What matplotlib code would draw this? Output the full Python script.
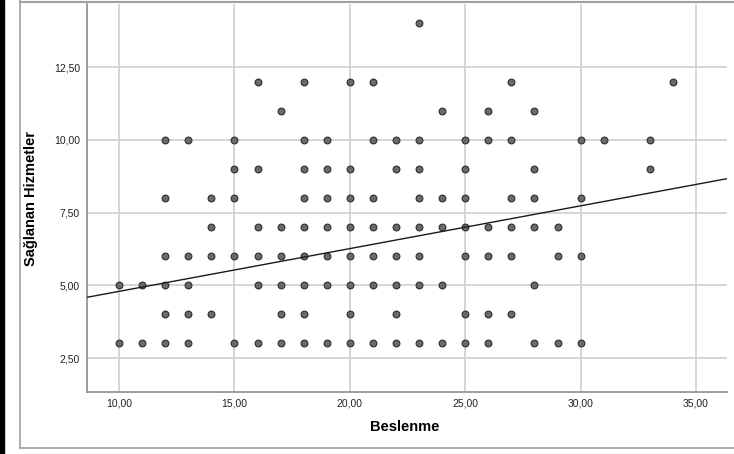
import matplotlib
matplotlib.use("Agg")
import matplotlib.pyplot as plt
from matplotlib.patches import Rectangle
from matplotlib.lines import Line2D

# Datos: Beslenme (x) y Sağlanan Hizmetler (y)
beslenme = (
    [10] * 2 + [11] * 2 + [12] * 6 + [13] * 5 + [14] * 4 + [15] * 5 + [16] * 6
    + [17] * 6 + [18] * 9 + [19] * 7 + [20] * 8 + [21] * 7 + [22] * 7
    + [23] * 8 + [24] * 5 + [25] * 7 + [26] * 6 + [27] * 6 + [28] * 6
    + [29] * 3 + [30] * 4 + [31] * 1 + [33] * 2 + [34] * 1
)
hizmetler = (
    [5, 3]
    + [5, 3]
    + [10, 8, 6, 5, 4, 3]
    + [10, 6, 5, 4, 3]
    + [8, 7, 6, 4]
    + [10, 9, 8, 6, 3]
    + [12, 9, 7, 6, 5, 3]
    + [11, 7, 6, 5, 4, 3]
    + [12, 10, 9, 8, 7, 6, 5, 4, 3]
    + [10, 9, 8, 7, 6, 5, 3]
    + [12, 9, 8, 7, 6, 5, 4, 3]
    + [12, 10, 8, 7, 6, 5, 3]
    + [10, 9, 7, 6, 5, 4, 3]
    + [14, 10, 9, 8, 7, 6, 5, 3]
    + [11, 8, 7, 5, 3]
    + [10, 9, 8, 7, 6, 4, 3]
    + [11, 10, 7, 6, 4, 3]
    + [12, 10, 8, 7, 6, 4]
    + [11, 9, 8, 7, 5, 3]
    + [7, 6, 3]
    + [10, 8, 6, 3]
    + [10]
    + [10, 9]
    + [12]
)

# Recta de ajuste lineal
intercepto = 3.32
pendiente = 0.147

x_ticks = [10, 15, 20, 25, 30, 35]
y_ticks = [2.5, 5.0, 7.5, 10.0, 12.5]

plt.rcParams['font.family'] = ['Liberation Sans Narrow', 'Liberation Sans', 'DejaVu Sans']

fig = plt.figure(figsize=(7.34, 4.54), dpi=100)
ax = fig.add_axes([87 / 734, 62 / 454, 640 / 734, 388 / 454])

xmin, xmax = 8.613, 36.34
ymin, ymax = 1.332, 14.665
ax.set_xlim(xmin, xmax)
ax.set_ylim(ymin, ymax)

ax.grid(True, color='#d2d2d2', linewidth=1.3, zorder=0)
ax.set_axisbelow(True)

ax.scatter(beslenme, hizmetler, s=24, facecolor='#6a6a6a', edgecolor='#2e2e2e',
           linewidth=0.8, zorder=3)

xs = [xmin, xmax]
ys = [intercepto + pendiente * v for v in xs]
ax.plot(xs, ys, color='#1a1a1a', linewidth=1.0, zorder=4)

ax.set_xticks(x_ticks)
ax.set_yticks(y_ticks)
ax.set_xticklabels([f"{v:.2f}".replace('.', ',') for v in x_ticks])
ax.set_yticklabels([f"{v:.2f}".replace('.', ',') for v in y_ticks])
ax.tick_params(length=0, labelsize=7.5, colors='#222222', pad=5)

for s in ['top', 'right']:
    ax.spines[s].set_visible(False)
for s in ['left', 'bottom']:
    ax.spines[s].set_color('#8c8c8c')
    ax.spines[s].set_linewidth(1.2)

fig.text(405 / 734, 1 - 427 / 454, 'Beslenme', ha='center', va='center',
         fontsize=10.5, fontweight='bold', family=['Liberation Sans', 'DejaVu Sans'])
fig.text(31 / 734, 1 - 198 / 454, 'Sağlanan Hizmetler', ha='center', va='center',
         rotation=90, fontsize=10.5, fontweight='bold',
         family=['Liberation Sans', 'DejaVu Sans'])

# Marco exterior
fig.patches.append(Rectangle((0, 0), 4 / 734, 1, transform=fig.transFigure,
                             color='black', zorder=10))
fig.lines.append(Line2D([20 / 734, 1], [1 - 1.5 / 454] * 2, transform=fig.transFigure,
                        color='#a0a0a0', linewidth=1.5))
fig.lines.append(Line2D([20 / 734, 1], [1 - 448 / 454] * 2, transform=fig.transFigure,
                        color='#a0a0a0', linewidth=1.2))
fig.lines.append(Line2D([20 / 734] * 2, [1 - 448 / 454, 1], transform=fig.transFigure,
                        color='#a0a0a0', linewidth=1.2))

fig.savefig('out.png', dpi=100)
